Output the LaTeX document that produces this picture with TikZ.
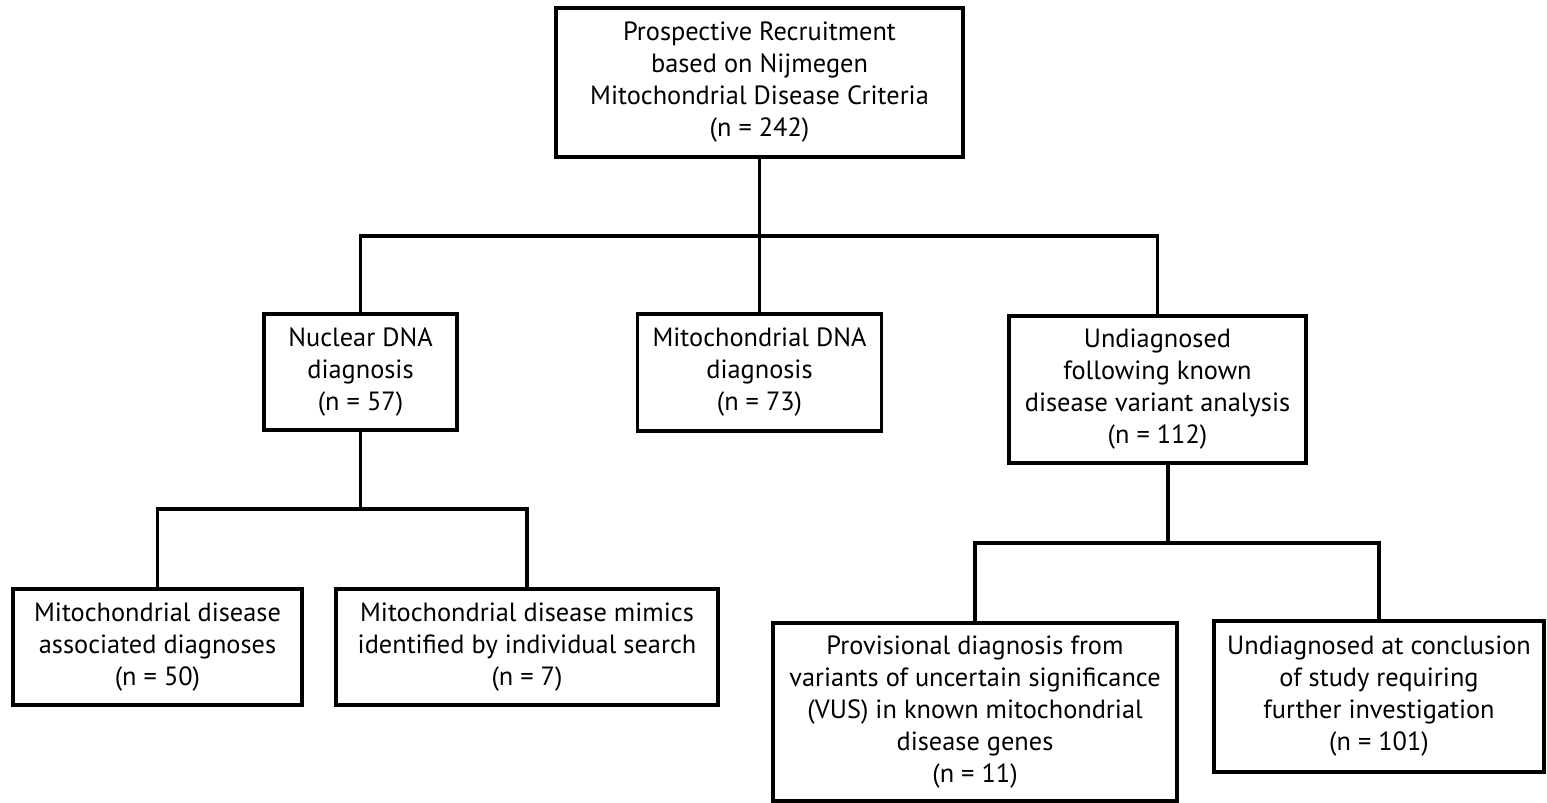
\documentclass[tikz,border=0pt]{standalone}
\usepackage{fontspec}
\setmainfont{PT Sans}
\begin{document}
\begin{tikzpicture}[x=0.02cm, y=-0.02cm, line width=1.9pt,
    box/.style={draw, rectangle, align=center, inner sep=0pt,
      font=\fontsize{15}{18.2}\selectfont}]
    \useasboundingbox (0,0) rectangle (1547,803);
    \node [box, minimum width=8.14cm, minimum height=2.98cm] (recruit) at (759.5,82.5)
      {Prospective Recruitment\\based on Nijmegen\\Mitochondrial Disease Criteria\\(n = 242)};
    \node [box, minimum width=3.86cm, minimum height=2.32cm] (nuclear) at (360.5,372)
      {Nuclear DNA\\diagnosis\\(n = 57)};
    \node [box, minimum width=4.88cm, minimum height=2.34cm] (mtdna) at (759.5,372.5)
      {Mitochondrial DNA\\diagnosis\\(n = 73)};
    \node [box, minimum width=5.94cm, minimum height=2.94cm] (undiag) at (1157.5,389.5)
      {Undiagnosed\\following known\\disease variant analysis\\(n = 112)};
    \node [box, minimum width=5.78cm, minimum height=2.32cm] (assoc) at (157.5,647)
      {Mitochondrial disease\\associated diagnoses\\(n = 50)};
    \node [box, minimum width=7.64cm, minimum height=2.32cm] (mimics) at (527,647)
      {Mitochondrial disease mimics\\identified by individual search\\(n = 7)};
    \node [box, minimum width=8.08cm, minimum height=3.56cm] (vus) at (975,712)
      {Provisional diagnosis from\\variants of uncertain significance\\(VUS) in known mitochondrial\\disease genes\\(n = 11)};
    \node [box, minimum width=6.6cm, minimum height=3.02cm] (further) at (1379,696.5)
      {Undiagnosed at conclusion\\of study requiring\\further investigation\\(n = 101)};
    % branch points
    \coordinate (top split) at (759.5,236);
    \coordinate (left split) at (360.5,509);
    \coordinate (right split) at (1168,543);
    \draw (recruit.south) -- (top split);
    \draw (nuclear.north) |- (top split) -| (undiag.north);
    \draw (mtdna.north) -- (top split);
    \draw (nuclear.south) -- (left split);
    \draw (assoc.north) |- (left split) -| (mimics.north);
    \draw (undiag.south -| right split) -- (right split);
    \draw (vus.north) |- (right split) -| (further.north);
\end{tikzpicture}
\end{document}
